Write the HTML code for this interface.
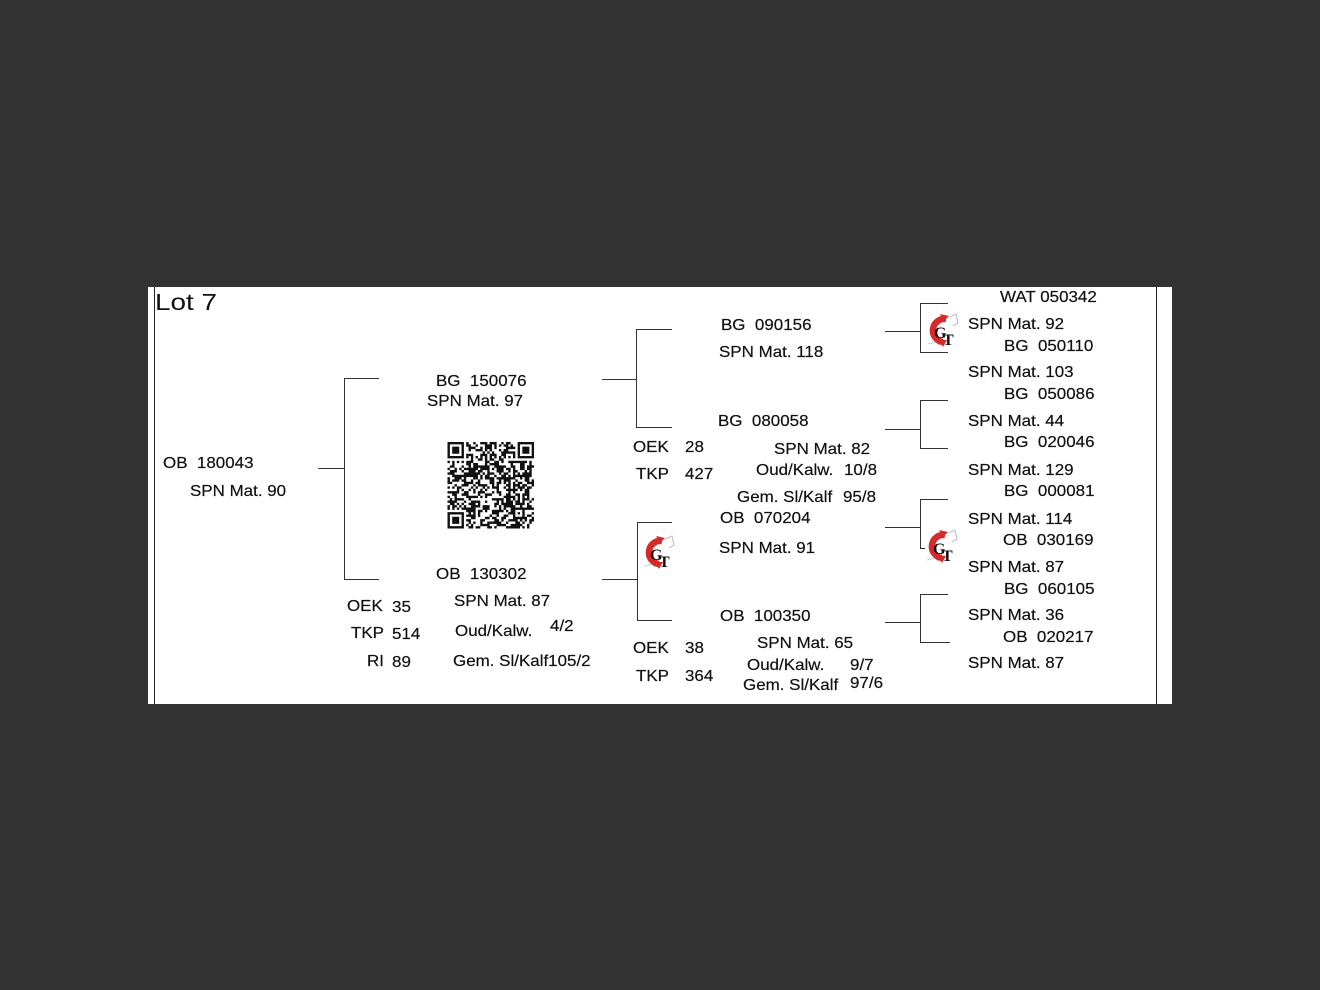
<!DOCTYPE html>
<html><head><meta charset="utf-8">
<style>
html,body{margin:0;padding:0;background:#333;}
svg{display:block}
text{font-family:"Liberation Sans",Arial,sans-serif;font-size:16px;fill:#111;stroke:#111;stroke-width:0.2px;letter-spacing:0}
.ln{stroke:#333;stroke-width:1;fill:none}
.g1{font-family:"Liberation Serif",serif;font-weight:bold;letter-spacing:0;fill:#111;stroke:none}
</style></head><body>
<svg width="1320" height="990" viewBox="0 0 1320 990" xmlns="http://www.w3.org/2000/svg">
<rect x="0" y="0" width="1320" height="990" fill="#333"/>
<rect x="148" y="287" width="1024" height="417" fill="#fff"/>
<line x1="154.5" y1="287" x2="154.5" y2="704" stroke="#222" stroke-width="1"/>
<line x1="1156.5" y1="287" x2="1156.5" y2="704" stroke="#222" stroke-width="1"/>

<!-- brackets -->
<path class="ln" d="M379 378.5 H344.5 V579.5 H379 M318 468.5 H344.5"/>
<path class="ln" d="M672 329.5 H636.5 V427.5 H672 M602 379.5 H636.5"/>
<path class="ln" d="M672 522.5 H637.5 V620.5 H672 M602 579.5 H637.5"/>
<path class="ln" d="M948 303.5 H920.5 V352.5 H948 M885 331.5 H920.5"/>
<path class="ln" d="M948 400.5 H920.5 V448.5 H948 M885 429.5 H920.5"/>
<path class="ln" d="M948 499.5 H920.5 V548.5 H948 M885 527.5 H920.5"/>
<path class="ln" d="M948 594.5 H920.5 V642.5 H950 M885 622.5 H920.5"/>

<!-- QR -->
<rect x="445" y="440" width="92" height="91" fill="#fff"/>
<path id="qr" fill="#111" d=""/>

<!-- GT logos -->
<g transform="translate(926,313)">
<rect x="0" y="0" width="35" height="35" fill="#fff"/>
<polyline points="24,4 30,1 32,10 27,13" fill="none" stroke="#aab4c4" stroke-width="0.9"/>
<polyline points="2,31 10,29 13,32" fill="none" stroke="#b8c0cc" stroke-width="0.9"/>
<path d="M20 6 A11 11 0 1 0 17 29" fill="none" stroke="#d42a2a" stroke-width="6.5"/>
<path d="M14 1 L23 3 L18 8 Z" fill="#d42a2a"/>
<path d="M13 27 L21 27 L17 34 Z" fill="#d42a2a"/>
<text class="g1" x="8" y="25" font-size="22">G</text>
<text class="g1" x="17" y="32" font-size="20">T</text>
</g>
<g transform="translate(642,535)">
<rect x="0" y="0" width="35" height="35" fill="#fff"/>
<polyline points="24,4 30,1 32,10 27,13" fill="none" stroke="#aab4c4" stroke-width="0.9"/>
<polyline points="2,31 10,29 13,32" fill="none" stroke="#b8c0cc" stroke-width="0.9"/>
<path d="M20 6 A11 11 0 1 0 17 29" fill="none" stroke="#d42a2a" stroke-width="6.5"/>
<path d="M14 1 L23 3 L18 8 Z" fill="#d42a2a"/>
<path d="M13 27 L21 27 L17 34 Z" fill="#d42a2a"/>
<text class="g1" x="8" y="25" font-size="22">G</text>
<text class="g1" x="17" y="32" font-size="20">T</text>
</g>
<g transform="translate(925,529)">
<rect x="0" y="0" width="36" height="35" fill="#fff"/>
<polyline points="24,4 30,1 32,10 27,13" fill="none" stroke="#aab4c4" stroke-width="0.9"/>
<polyline points="2,31 10,29 13,32" fill="none" stroke="#b8c0cc" stroke-width="0.9"/>
<path d="M20 6 A11 11 0 1 0 17 29" fill="none" stroke="#d42a2a" stroke-width="6.5"/>
<path d="M14 1 L23 3 L18 8 Z" fill="#d42a2a"/>
<path d="M13 27 L21 27 L17 34 Z" fill="#d42a2a"/>
<text class="g1" x="8" y="25" font-size="22">G</text>
<text class="g1" x="17" y="32" font-size="20">T</text>
</g>

<!-- column 0 -->
<text x="155" y="310" style="font-size:23.5px;stroke-width:0" textLength="62" lengthAdjust="spacingAndGlyphs">Lot 7</text>
<text class="t" x="163" y="468">OB&#160; 180043</text>
<text class="t" x="190" y="496">SPN Mat. 90</text>

<!-- column 1 -->
<text class="t" x="436" y="386">BG&#160; 150076</text>
<text class="t" x="427" y="406">SPN Mat. 97</text>
<text class="t" x="436" y="579">OB&#160; 130302</text>
<text class="t" x="347" y="611">OEK</text><text class="t" x="392" y="612">35</text>
<text class="t" x="351" y="638">TKP</text><text class="t" x="392" y="639">514</text>
<text class="t" x="367" y="666">RI</text><text class="t" x="392" y="667">89</text>
<text class="t" x="454" y="606">SPN Mat. 87</text>
<text class="t" x="455" y="636">Oud/Kalw.</text><text class="t" x="550" y="631">4/2</text>
<text class="t" x="453" y="666">Gem. Sl/Kalf105/2</text>

<!-- column 2 -->
<text class="t" x="721" y="330">BG&#160; 090156</text>
<text class="t" x="719" y="357">SPN Mat. 118</text>
<text class="t" x="718" y="426">BG&#160; 080058</text>
<text class="t" x="633" y="452">OEK</text><text class="t" x="685" y="452">28</text>
<text class="t" x="774" y="454">SPN Mat. 82</text>
<text class="t" x="636" y="479">TKP</text><text class="t" x="685" y="479">427</text>
<text class="t" x="756" y="475">Oud/Kalw.</text><text class="t" x="844" y="475">10/8</text>
<text class="t" x="737" y="502">Gem. Sl/Kalf</text><text class="t" x="843" y="502">95/8</text>
<text class="t" x="720" y="523">OB&#160; 070204</text>
<text class="t" x="719" y="553">SPN Mat. 91</text>
<text class="t" x="720" y="621">OB&#160; 100350</text>
<text class="t" x="633" y="653">OEK</text><text class="t" x="685" y="653">38</text>
<text class="t" x="757" y="648">SPN Mat. 65</text>
<text class="t" x="636" y="681">TKP</text><text class="t" x="685" y="681">364</text>
<text class="t" x="747" y="670">Oud/Kalw.</text><text class="t" x="850" y="670">9/7</text>
<text class="t" x="743" y="690">Gem. Sl/Kalf</text><text class="t" x="850" y="688">97/6</text>

<!-- column 3 -->
<text class="t" x="1000" y="302">WAT 050342</text>
<text class="t" x="968" y="329">SPN Mat. 92</text>
<text class="t" x="1004" y="351">BG&#160; 050110</text>
<text class="t" x="968" y="377">SPN Mat. 103</text>
<text class="t" x="1004" y="399">BG&#160; 050086</text>
<text class="t" x="968" y="426">SPN Mat. 44</text>
<text class="t" x="1004" y="447">BG&#160; 020046</text>
<text class="t" x="968" y="475">SPN Mat. 129</text>
<text class="t" x="1004" y="496">BG&#160; 000081</text>
<text class="t" x="968" y="524">SPN Mat. 114</text>
<text class="t" x="1003" y="545">OB&#160; 030169</text>
<text class="t" x="968" y="572">SPN Mat. 87</text>
<text class="t" x="1004" y="594">BG&#160; 060105</text>
<text class="t" x="968" y="620">SPN Mat. 36</text>
<text class="t" x="1003" y="642">OB&#160; 020217</text>
<text class="t" x="968" y="668">SPN Mat. 87</text>
</svg>
<script>
(function(){
var ts=document.querySelectorAll('text.t');
for(var k=0;k<ts.length;k++){
  var t=ts[k];
  var L=t.getComputedTextLength();
  if(L>0){t.setAttribute('textLength',(L*1.06).toFixed(1));t.setAttribute('lengthAdjust','spacingAndGlyphs');}
}
var N=37,S=86.5/N,ox=447.5,oy=442;
var seed=20240607;
function r(){seed=(seed*1103515245+12345)&0x7fffffff;return seed/0x7fffffff;}
var g=[],i,j;
for(i=0;i<N;i++){g[i]=[];for(j=0;j<N;j++){g[i][j]=r()<0.52?1:0;}}
function finder(r0,c0){
 for(var dy=-1;dy<=7;dy++)for(var dx=-1;dx<=7;dx++){
  var y=r0+dy,x=c0+dx; if(y<0||x<0||y>=N||x>=N)continue;
  var v;
  if(dy<0||dy>6||dx<0||dx>6)v=0;
  else if(dy==0||dy==6||dx==0||dx==6)v=1;
  else if(dy>=2&&dy<=4&&dx>=2&&dx<=4)v=1;
  else v=0;
  g[y][x]=v;}
}
finder(0,0);finder(0,N-7);finder(N-7,0);
for(i=8;i<N-8;i++){g[6][i]=(i%2==0)?1:0;g[i][6]=(i%2==0)?1:0;}
for(var dy=-2;dy<=2;dy++)for(var dx=-2;dx<=2;dx++){
 var m=Math.max(Math.abs(dy),Math.abs(dx));
 g[30+dy][30+dx]=(m==1)?0:1;
}
var d="";
for(i=0;i<N;i++)for(j=0;j<N;j++){
 if(g[i][j]){
  var x=(ox+j*S).toFixed(2),y=(oy+i*S).toFixed(2),w=(S+0.05).toFixed(2);
  d+="M"+x+" "+y+"h"+w+"v"+w+"h-"+w+"z";
 }
}
document.getElementById("qr").setAttribute("d",d);
})();
</script>
</body></html>
